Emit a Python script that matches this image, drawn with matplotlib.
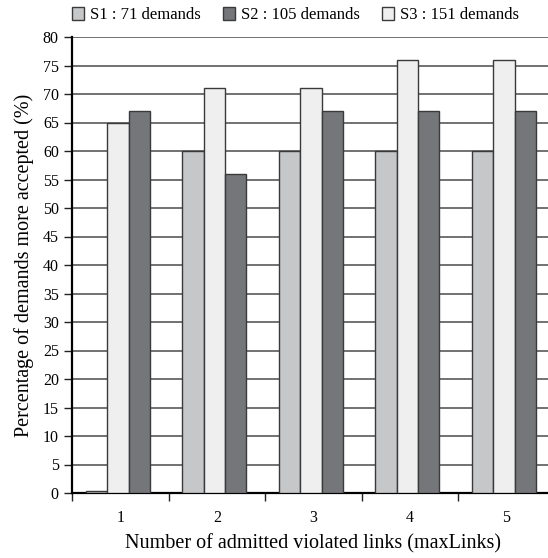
import matplotlib.pyplot as plt
import numpy as np
from matplotlib.patches import Patch

plt.rcParams['font.family'] = ['Liberation Serif', 'DejaVu Serif']

max_links = ['1', '2', '3', '4', '5']
s1 = [0.4, 60, 60, 60, 60]
s2 = [67, 56, 67, 67, 67]
s3 = [65, 71, 71, 76, 76]

c_s1 = '#c6c7c8'
c_s2 = '#75767a'
c_s3 = '#efefef'
edge = '#3a3a3a'

fig = plt.figure(figsize=(5.48, 5.58), dpi=100)
ax = fig.add_axes([72 / 548, 1 - 493 / 558, 482.5 / 548, 456 / 558])

x = np.arange(len(max_links))
w = 0.222
off = -0.025
# order in each group: S1, S3, S2
ax.bar(x - w + off, s1, w, color=c_s1, edgecolor=edge, linewidth=1, zorder=3)
ax.bar(x + off, s3, w, color=c_s3, edgecolor=edge, linewidth=1, zorder=3)
ax.bar(x + w + off, s2, w, color=c_s2, edgecolor=edge, linewidth=1, zorder=3)

ax.set_xlim(-0.5, len(max_links) - 0.5)
ax.set_ylim(0, 80)
ax.set_yticks(np.arange(0, 81, 5))
ax.yaxis.grid(True, color='#4a4a4a', linewidth=1.1, zorder=0)
ax.set_axisbelow(True)

ax.set_xticks(x)
ax.set_xticklabels(max_links)
ax.set_xticks(np.arange(-0.5, len(max_links), 1), minor=True)
ax.tick_params(axis='x', which='major', length=0, pad=12, labelsize=11.5)
ax.tick_params(axis='x', which='minor', length=6, width=1, direction='out', color='#222')
ax.tick_params(axis='y', length=6, width=1, direction='out', labelsize=11.5, color='#222')

for s in ['top', 'right']:
    ax.spines[s].set_visible(False)
ax.spines['left'].set_linewidth(1.6)
ax.spines['bottom'].set_linewidth(1.6)

ax.set_xlabel('Number of admitted violated links (maxLinks)', fontsize=14.5, labelpad=6)
ax.set_ylabel('Percentage of demands more accepted (%)', fontsize=14.5, labelpad=6)

handles = [Patch(facecolor=c_s1, edgecolor=edge, label='S1 : 71 demands'),
           Patch(facecolor=c_s2, edgecolor=edge, label='S2 : 105 demands'),
           Patch(facecolor=c_s3, edgecolor=edge, label='S3 : 151 demands')]
fig.legend(handles=handles, loc='center left', bbox_to_anchor=(57 / 548, 1 - 15 / 558),
           ncol=3, frameon=False, fontsize=12, handlelength=0.72, handleheight=0.8,
           handletextpad=0.35, columnspacing=1.35)

fig.savefig('out.png', dpi=100)
